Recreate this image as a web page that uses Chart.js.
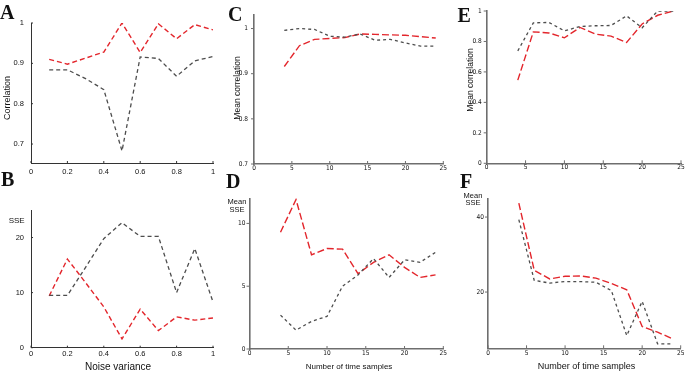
<!DOCTYPE html>
<html><head><meta charset="utf-8">
<script src="https://cdn.jsdelivr.net/npm/chart.js@4"></script>
<style>
html,body{margin:0;padding:0;background:#fff;overflow:hidden;width:685px;height:372px;position:relative;}
canvas{position:absolute;}
.lt{position:absolute;font-family:'Liberation Serif','Times New Roman',serif;font-weight:bold;font-size:20px;line-height:20px;color:#111;}
.t{position:absolute;font-family:'Liberation Sans',Arial,sans-serif;color:#111;white-space:nowrap;transform:translate(-50%,-50%);line-height:1;text-align:center;}
.v{transform:translate(-50%,-50%) rotate(-90deg);}
</style></head><body>
<canvas id="cA"></canvas><canvas id="cB"></canvas><canvas id="cC"></canvas>
<canvas id="cD"></canvas><canvas id="cE"></canvas><canvas id="cF"></canvas>

<div class="lt" style="left:0px;top:2.4px">A</div>
<div class="lt" style="left:1px;top:169.4px">B</div>
<div class="lt" style="left:228px;top:4.4px">C</div>
<div class="lt" style="left:226px;top:171.4px">D</div>
<div class="lt" style="left:457.5px;top:4.7px">E</div>
<div class="lt" style="left:460px;top:171.4px">F</div>

<div class="t v" style="left:7px;top:97.5px;font-size:9px">Correlation</div>
<div class="t" style="left:16.7px;top:221px;font-size:8px">SSE</div>
<div class="t" style="left:118px;top:367px;font-size:10px">Noise variance</div>
<div class="t v" style="left:236.5px;top:87.5px;font-size:8.5px">Mean correlation</div>
<div class="t" style="left:237px;top:205px;font-size:7.5px;line-height:7.5px">Mean<br>SSE</div>
<div class="t" style="left:349px;top:367px;font-size:8px">Number of time samples</div>
<div class="t v" style="left:469.5px;top:80px;font-size:8.5px">Mean correlation</div>
<div class="t" style="left:473px;top:198.5px;font-size:7.5px;line-height:7.5px">Mean<br>SSE</div>
<div class="t" style="left:586.5px;top:365.5px;font-size:9px">Number of time samples</div>

<script>
// ---- data ----
const noiseVariance = [0.1, 0.2, 0.3, 0.4, 0.5, 0.6, 0.7, 0.8, 0.9, 1.0];
const aRed  = [0.910, 0.898, 0.913, 0.928, 1.000, 0.927, 0.998, 0.961, 0.996, 0.983];
const aGray = [0.884, 0.884, 0.862, 0.835, 0.683, 0.916, 0.912, 0.868, 0.906, 0.917];
const bRed  = [9.4, 16.1, 11.8, 7.4, 1.6, 7.0, 3.1, 5.6, 5.0, 5.4];
const bGray = [9.5, 9.5, 14.6, 19.8, 22.7, 20.2, 20.2, 10.0, 18.0, 8.3];

const timeSamples = [4, 6, 8, 10, 12, 14, 16, 18, 20, 22, 24];
const cRed  = [0.916, 0.962, 0.976, 0.978, 0.980, 0.988, 0.987, 0.986, 0.985, 0.982, 0.979];
const cGray = [0.996, 1.000, 0.998, 0.983, 0.981, 0.988, 0.974, 0.976, 0.968, 0.961, 0.961];
const dRed  = [9.3, 11.9, 7.5, 8.0, 7.95, 6.0, 6.9, 7.5, 6.5, 5.7, 5.9];
const dGray = [2.7, 1.5, 2.2, 2.6, 5.0, 5.9, 7.2, 5.7, 7.1, 6.9, 7.7];
const eRed  = [0.546, 0.863, 0.856, 0.824, 0.892, 0.848, 0.835, 0.793, 0.915, 0.972, 1.0];
const eGray = [0.738, 0.922, 0.925, 0.870, 0.898, 0.903, 0.905, 0.968, 0.890, 1.0, 1.0];
const fRed  = [43.7, 25.8, 23.5, 24.2, 24.3, 23.7, 22.3, 20.6, 10.8, 9.3, 7.5];
const fGray = [39.3, 23.1, 22.4, 22.8, 22.8, 22.6, 20.4, 8.4, 17.5, 6.2, 6.2];

const noiseTicks = [0, 0.2, 0.4, 0.6, 0.8, 1];
const sampleTicks = [0, 5, 10, 15, 20, 25];
const aYTicks = [0.7, 0.8, 0.9, 1];
const bYTicks = [0, 10, 20];
const cYTicks = [0.7, 0.8, 0.9, 1];
const dYTicks = [0, 5, 10];
const eYTicks = [0, 0.2, 0.4, 0.6, 0.8, 1];
const fYTicks = [20, 40];

// ---- styles ----
const RED = '#e3262c', GRAY = '#4d4d4d';

const tickPlugin = {
  id: 'tk',
  afterDraw(chart, args, o) {
    const ctx = chart.ctx, a = chart.chartArea, xs = chart.scales.x, ys = chart.scales.y;
    ctx.save();
    ctx.strokeStyle = o.color; ctx.lineWidth = 1;
    xs.ticks.forEach(t => {
      const p = xs.getPixelForValue(t.value);
      ctx.beginPath(); ctx.moveTo(p, a.bottom); ctx.lineTo(p, a.bottom - o.xdir * o.len); ctx.stroke();
    });
    ys.ticks.forEach(t => {
      const p = ys.getPixelForValue(t.value);
      ctx.beginPath(); ctx.moveTo(a.left, p); ctx.lineTo(a.left + o.ydir * o.len, p); ctx.stroke();
    });
    ctx.restore();
  }
};

function fmt(v) { return String(Math.round(v * 100) / 100); }

function panel(id, box, area, xs, red, gray, xr, yr, st) {
  const cv = document.getElementById(id);
  cv.width = box.w; cv.height = box.h;
  cv.style.left = box.x + 'px'; cv.style.top = box.y + 'px';
  const font = { family: st.family, size: st.tickSize };
  new Chart(cv, {
    type: 'line',
    data: { datasets: [
      { data: xs.map((x, i) => ({ x, y: gray[i] })), borderColor: GRAY, borderDash: st.grayDash,
        borderWidth: 1.3, pointRadius: 0, fill: false, tension: 0 },
      { data: xs.map((x, i) => ({ x, y: red[i] })), borderColor: RED, borderDash: st.redDash,
        borderWidth: 1.4, pointRadius: 0, fill: false, tension: 0 }
    ]},
    options: {
      responsive: false, animation: false, events: [],
      layout: { padding: { top: area.t - box.y, right: box.x + box.w - area.r, left: 0, bottom: 0 } },
      plugins: { legend: { display: false }, tooltip: { enabled: false },
        tk: { color: st.axisColor, len: st.tickLen, xdir: 1, ydir: st.ydir } },
      scales: {
        x: { type: 'linear', min: xr.min, max: xr.max,
          afterBuildTicks: s => { s.ticks = xr.ticks.map(v => ({ value: v })); },
          afterFit: s => { s.height = box.y + box.h - area.b; },
          ticks: { padding: st.xpad, font, color: '#111', autoSkip: false, maxRotation: 0, callback: v => fmt(v) },
          grid: { display: true, drawOnChartArea: false, drawTicks: false },
          border: { display: true, color: st.axisColor, width: st.axisWidth } },
        y: { type: 'linear', min: yr.min, max: yr.max,
          afterBuildTicks: s => { s.ticks = yr.ticks.map(v => ({ value: v })); },
          afterFit: s => { s.width = area.l - box.x; },
          ticks: { padding: st.ypad, font, color: '#111', autoSkip: false, callback: v => fmt(v) },
          grid: { display: true, drawOnChartArea: false, drawTicks: false },
          border: { display: true, color: st.axisColor, width: st.axisWidth } }
      }
    },
    plugins: [tickPlugin]
  });
}

const stAB = { family: "'Liberation Sans', Arial, sans-serif", tickSize: 7.5, axisColor: '#333', axisWidth: 1,
  redDash: [5, 3], grayDash: [4, 3], ydir: 1, tickLen: 2 };
const stCF = { family: "'Liberation Sans Narrow', 'DejaVu Sans Condensed', 'Liberation Sans', Arial, sans-serif", tickSize: 6.5, axisColor: '#6e6e6e', axisWidth: 1.6,
  redDash: [7, 3], grayDash: [3, 3], ydir: -1, tickLen: 3 };

panel('cA', { x: 0, y: 0, w: 225, h: 180 }, { l: 31, t: 23, r: 213, b: 163 }, noiseVariance, aRed, aGray,
  { min: 0, max: 1, ticks: noiseTicks }, { min: 0.653, max: 1, ticks: aYTicks }, { ...stAB, xpad: 4, ypad: 7 });
panel('cB', { x: 0, y: 180, w: 225, h: 192 }, { l: 31, t: 210, r: 213, b: 347.7 }, noiseVariance, bRed, bGray,
  { min: 0, max: 1, ticks: noiseTicks }, { min: 0, max: 25, ticks: bYTicks }, { ...stAB, xpad: 1.5, ypad: 7 });
panel('cC', { x: 225, y: 0, w: 230, h: 180 }, { l: 254, t: 15, r: 443.3, b: 164 }, timeSamples, cRed, cGray,
  { min: 0, max: 25, ticks: sampleTicks }, { min: 0.7, max: 1.03, ticks: cYTicks }, { ...stCF, xpad: 0, ypad: 6 });
panel('cD', { x: 225, y: 180, w: 230, h: 192 }, { l: 249.5, t: 198.3, r: 443.3, b: 349 }, timeSamples, dRed, dGray,
  { min: 0, max: 25, ticks: sampleTicks }, { min: 0, max: 12, ticks: dYTicks }, { ...stCF, xpad: 0, ypad: 4 });
panel('cE', { x: 455, y: 0, w: 245, h: 180 }, { l: 486.7, t: 11, r: 681, b: 163.3 }, timeSamples, eRed, eGray,
  { min: 0, max: 25, ticks: sampleTicks }, { min: 0, max: 1, ticks: eYTicks }, { ...stCF, xpad: 0, ypad: 5 });
panel('cF', { x: 455, y: 180, w: 245, h: 192 }, { l: 488, t: 198.3, r: 680.7, b: 348.3 }, timeSamples, fRed, fGray,
  { min: 0, max: 25, ticks: sampleTicks }, { min: 5, max: 45, ticks: fYTicks }, { ...stCF, xpad: 1, ypad: 4 });
</script>
</body></html>
